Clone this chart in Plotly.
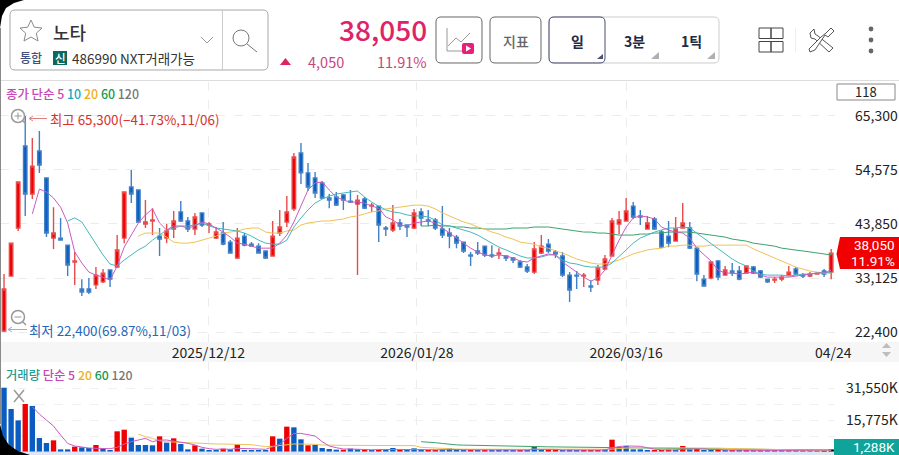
import plotly.graph_objects as go

W, H = 899, 455
FONT = "Noto Sans CJK KR"

open_ = [22600,33500,43050,59350,49800,58350,53000,41050,41050,39650,36300,30950,30950,31750,32350,34700,35300,41050,51200,50600,
         43850,44450,41450,41050,42850,46250,44450,42850,46050,43650,41050,42050,40250,37100,41450,39850,39450,38500,37500,42050,
         44250,46850,57950,54000,53000,52000,49000,49200,49600,48400,47800,48800,47400,47400,43050,42650,44050,43650,43050,46250,
         44650,44650,42850,42050,41250,40250,37700,38500,39450,37700,37900,37500,37100,36300,35300,34300,38100,39850,38300,37500,
         33700,33700,33500,31550,32700,34900,37500,43850,44450,47400,45450,42850,44850,42250,41450,40450,43050,43050,39050,32900,
         33100,36500,33700,34500,34500,34100,35300,34500,32900,32700,32900,33700,34900,33700,33500,33900,34500,34300]
high = [33900,40050,52200,65300,60950,62300,53000,47200,45050,39650,38300,32900,33100,35300,34900,34700,41650,50200,54550,50600,
        48600,47000,43050,43850,46450,48400,45250,46050,46050,44250,43250,44250,40650,43050,42050,40250,40050,38500,44450,46650,
        49400,57950,59950,55950,54200,52400,49800,50200,49800,50600,49600,49200,48000,47400,43450,47600,44850,43650,46850,47000,
        46650,45050,47400,43050,41650,40250,38300,40250,39450,39650,39050,37500,37300,36700,35900,40250,41650,40850,38700,38300,
        34300,34500,34100,32700,35700,37700,45050,46450,49000,48200,46650,45450,45250,42650,44450,45250,48000,44250,39050,33700,
        36300,36700,35500,36100,35500,35500,35500,34700,32900,33300,33700,35500,35300,34100,34300,34100,34900,38900]
low = [22400,33500,42450,45450,48800,54000,41250,38900,40650,33500,31750,29550,29950,30950,32150,31350,35100,40050,48000,44050,
       43050,41650,37500,40050,41050,44250,42250,41650,43250,42050,40850,39650,38100,36900,39450,39450,38100,36900,37500,41450,
       43250,46450,51800,50400,49000,48800,47000,47400,46650,48000,33700,46850,46250,40250,41450,42250,42650,41250,42850,43450,
       43450,42650,41050,39050,39050,38100,35500,37700,37300,37100,36900,36500,36100,35100,34100,33900,37900,38100,37100,33300,
       28350,30950,31350,30350,31750,34700,37500,41850,44450,44850,43650,42850,42650,39050,39250,40450,43050,38900,32500,31550,
       32900,32700,33700,33500,32700,34100,33900,33100,32150,32150,32500,33700,33700,33100,33300,33900,33300,32900]
close = [30950,40050,52200,49800,55350,55550,42050,42050,40650,35700,36500,30350,30350,33700,34100,32900,38700,50200,49800,44250,
         44250,44650,40850,42450,44450,44450,42850,45250,43650,43850,42250,39850,38100,41050,39650,39450,38100,37100,41450,43250,
         46250,57150,54000,51200,50000,49000,48600,47600,48600,48200,48600,47000,47600,43650,42850,44050,43450,43250,46050,45050,
         44450,43050,41650,41450,40050,38500,37500,38100,37700,37500,38100,37100,36700,35300,34500,38900,39450,38500,37900,33700,
         30750,33500,33700,31350,35100,36900,44450,44650,46450,45250,45250,44050,42850,39250,40050,42850,44050,39050,33900,31550,
         36300,33300,34700,34100,32900,35500,34100,33300,32350,32900,33300,34300,33900,33500,33900,34100,33900,38050]

ma5 = [45850,50800,50200,49000,47200,44050,38300,36100,34300,33700,33300,32700,35500,39250,41650,44050,45650,46850,44050,42650,
       43450,43450,43050,43450,44250,43850,43050,42250,41250,40050,39850,39450,39050,39050,39050,40050,41650,44250,47600,50600,
       52000,52200,50600,49200,48600,48200,48200,48000,47400,47000,45250,44650,43650,43450,44050,44250,44450,44050,43050,42050,
       41050,40050,39050,38300,37700,37500,37700,37500,37100,36500,36300,37100,37500,37900,37700,36300,35300,34300,33300,32500,
       33100,34700,37700,40650,43250,45050,45450,45250,44850,43250,42650,42250,42050,41050,39050,37700,36500,34700,34100,34100,
       33900,34100,34300,33700,33300,33300,33300,33300,33500,33700,33900,34100,34100,34700]
ma10 = [44450,45050,44250,42050,39650,37700,35900,35500,36700,37700,38700,39450,40650,41650,42650,43050,43450,43450,43650,44050,
        43450,43050,42850,42650,42450,42050,41450,40650,40050,39850,39850,40650,43250,45050,46650,48000,48800,49400,49800,50000,
        50200,50400,49200,48200,47400,46650,46250,46050,45650,45450,45450,45250,44650,43650,43450,43050,42650,42250,41650,40850,
        40050,39250,38700,38100,37500,37100,37100,37300,37700,37700,36700,36100,35900,35500,35300,35300,35300,36100,37500,38700,
        40050,41050,41650,42250,42650,43050,43050,43250,43050,42050,41050,40050,38900,37900,36900,36100,35500,34500,33900,33700,
        33700,33700,33500,33700,33900,33900,34100,34300,34100]
ma20 = [41450,42050,42050,42050,41250,40250,40050,40050,40250,40650,41050,41450,42050,42250,42450,42850,43050,43050,42250,42050,
        42050,42450,42650,43650,44050,44250,44450,44450,44650,44850,45250,45450,45850,46250,46450,46850,47000,47200,47400,47600,
        47600,47400,46850,46050,45450,44850,44250,43850,43250,42850,42250,41850,41250,40850,40250,40050,39850,39250,39050,38500,
        38100,37500,36900,36500,36100,35900,35900,36300,36700,37300,37900,38300,38700,38900,39050,39450,39450,39650,39650,39450,
        39450,39650,39650,39650,39650,39650,39650,38900,38300,37700,37100,36500,35900,35300,34900,34500,34300,34100,34100]
ma60 = [43450,43450,43650,43450,43450,43250,43250,43050,43050,42850,42850,42850,42850,43050,43050,43050,43250,43250,43250,43050,
        42850,42650,42450,42250,42250,42050,42050,41850,41650,41650,41650,41850,41850,42050,42050,42250,42250,42250,42250,42050,
        41850,41650,41450,41250,40850,40650,40450,40050,39850,39650,39450,39050,38900,38700,38500,38300,38100,37900,37700]

volume = [31700,21200,15600,23660,22700,6900,4440,5750,1300,1300,2630,2300,1970,3450,1640,985,10200,11000,7070,3450,
          3450,3290,7720,4600,6740,3940,1300,3290,1640,985,820,1640,1300,3780,985,820,660,660,7720,6570,
          12500,12160,6240,3290,3450,1970,1480,1150,1150,1640,1300,1150,820,985,985,1970,820,820,1800,1150,
          985,820,1150,1800,1300,1100,1000,1000,1000,1000,1100,1000,900,900,1000,2630,1300,1300,1100,1000,
          1100,1000,900,1000,1000,1300,6080,2460,2950,1300,1300,1000,1000,1000,1150,1150,2950,1300,1640,820,
          1150,1300,800,700,700,800,800,700,700,800,800,800,700,800,800,900,900,1288]
vol_up = "bbbrbbbrbbrbbrbbrrbbbbrbrbbrbbbrbrbbbbrbrbbrbbbbrbbrbrbbrbbbrrbbbbrbrbbbbrbbbrrbbbrrrbrbbbbbrrrbrbrbbrbrbrbrbrbrbrbr"

vma5 = [22300,18700,15700,12800,8360,4260,2950,2300,1970,1800,1800,1640,2300,3940,5080,5900,6720,5080,5900,5900,
        5400,5080,4260,3440,2300,1640,1310,1480,1310,1800,1800,1640,1480,1310,2620,3770,6720,9180,9180,8360,
        7870,5080,2950,2130,1480,1480,1300,1200,1100,1200,1100,1300,1250,1200,1300,1250,1150,1100,1200,1300,
        1200,1100,1050,1000,950,1000,1000,950,1000,1000,1000,1300,1400,1350,1300,1000,950,900,950,950,
        950,1000,2000,2700,3000,2900,2800,2100,1400,1100,1100,1000,1400,1500,1600,1500,1200,1300,1000,900,
        850,850,850,800,800,800,800,800,850,850,850,900,900,1000]
vma20 = [8860,7540,6720,5570,5080,4920,4590,4260,4260,4100,3940,3940,3940,3940,3940,3940,3610,3120,2620,2790,
         3280,3770,3940,3940,3940,3770,3440,3280,3280,3280,3280,3280,3280,3280,3280,3280,3280,3280,3280,3120,
         2300,2100,1800,1600,1500,1450,1400,1350,1300,1300,1300,1300,1300,1300,1300,1300,1400,1400,1400,1300,
         1300,1300,1250,1200,1200,1200,1200,1400,1700,2000,2100,2200,2200,2200,2200,2100,2000,2100,2100,2200,
         2000,1900,1900,1800,1700,1600,1500,1300,1200,1100,1050,1000,1000,1000,950,900,850,850,850]
vma60 = [5080,5000,4600,4200,3700,3500,3400,3300,3200,3100,3050,3000,2950,2900,2800,2700,2650,2600,2550,2500,
         2450,2400,2350,2300,2250,2200,2150,2150,2150,2100,2050,2000,1950,1900,1850,1800,1750,1700,1650,1600,
         1550,1500,1450,1400,1350,1300,1250,1200,1150,1100,1100,1050,1050,1000,1000,1000,950,950,950]

price_ticks = [22400, 33125, 43850, 54575, 65300]
price_labels = ["22,400", "33,125", "43,850", "54,575", "65,300"]
vol_ticks = [31550, 15775]
vol_labels = ["31,550K", "15,775K"]
vol_minor = [23662, 7887]
date_ticks = [28.9, 58.4, 88.0]
date_labels = ["2025/12/12", "2026/01/28", "2026/03/16"]

RED, BLUE = "#f00000", "#0a5cc0"
C5, C10, C20, C60, C120 = "#cc5cc0", "#45b8bc", "#efc258", "#3ba26c", "#777777"

n = len(close)
idx = list(range(n))
fig = go.Figure()


def line(y, start, color, yaxis="y", xaxis="x", width=1):
    fig.add_trace(go.Scatter(x=list(range(start, start + len(y))), y=y, mode="lines", xaxis=xaxis, yaxis=yaxis,
                             line=dict(color=color, width=width), hoverinfo="skip", showlegend=False))


fig.add_trace(go.Candlestick(
    x=idx, open=open_, high=high, low=low, close=close, whiskerwidth=0, showlegend=False,
    increasing=dict(line=dict(color="#e64c4c", width=1.4), fillcolor=RED),
    decreasing=dict(line=dict(color="#4080c6", width=1.4), fillcolor=BLUE)))
line(ma60, 59, C60)
line(ma20, 19, C20)
line(ma10, 9, C10)
line(ma5, 4, C5)

fig.add_trace(go.Bar(x=idx, y=volume, width=0.76, xaxis="x2", yaxis="y2", showlegend=False, hoverinfo="skip",
                     marker=dict(color=[RED if c == "r" else BLUE for c in vol_up], line=dict(width=0))))
line(vma60, 59, C60, "y2", "x2")
line(vma20, 19, C20, "y2", "x2")
line(vma5, 4, C5, "y2", "x2")

PX = 835 / W
XR = [-0.57, 117.54]
GRID = "#ececec"


def vd(top, bot):
    return [1 - bot / H, 1 - top / H]


fig.update_layout(
    width=W, height=H, margin=dict(l=0, r=0, t=0, b=0), paper_bgcolor="white", plot_bgcolor="white",
    font=dict(family=FONT, color="#222222", size=13), showlegend=False, bargap=0.3, hovermode=False,
    xaxis=dict(domain=[0, PX], range=XR, anchor="y", rangeslider=dict(visible=False), tickmode="array",
               tickvals=date_ticks, ticktext=date_labels, showgrid=True, gridcolor=GRID, griddash="dash",
               gridwidth=1, zeroline=False, showline=False, ticks="", tickangle=0, tickfont=dict(size=14, color="#222222"),
               ticklabelstandoff=1),
    yaxis=dict(domain=vd(82, 342), range=[20414, 72050], anchor="x", side="right", tickmode="array",
               tickvals=price_ticks, ticktext=price_labels, showgrid=True, gridcolor=GRID, griddash="dash",
               zeroline=False, showline=False, ticks="", tickfont=dict(size=14, color="#222222"), ticklabelstandoff=19),
    xaxis2=dict(domain=[0, PX], range=XR, anchor="y2", tickmode="array", tickvals=date_ticks, showticklabels=False,
                showgrid=True, gridcolor=GRID, griddash="dash", zeroline=False, showline=False, ticks=""),
    yaxis2=dict(domain=vd(362, 455), range=[-1480, 44370], anchor="x2", side="right", tickmode="array",
                tickvals=vol_ticks, ticktext=vol_labels, showgrid=True, gridcolor="#f1f1f1", griddash="dash",
                minor=dict(tickmode="array", tickvals=vol_minor, showgrid=True, gridcolor="#f1f1f1", griddash="dash", ticks=""),
                zeroline=False, showline=False, ticks="", tickfont=dict(size=14, color="#222222"), ticklabelstandoff=10),
)

shapes, notes = [], []


def X(x):
    return x / W


def Y(y):
    return 1 - y / H


def path(d_pts, close_path=True, line_color=None, fill=None, lw=1, layer="above"):
    d = ""
    for k, p in enumerate(d_pts):
        d += ("M" if k == 0 else "L") + f"{X(p[0]):.5f},{Y(p[1]):.5f} "
    if close_path:
        d += "Z"
    shapes.append(dict(type="path", path=d, xref="paper", yref="paper", layer=layer,
                       line=dict(color=line_color or "rgba(0,0,0,0)", width=lw if line_color else 0),
                       fillcolor=fill or "rgba(0,0,0,0)"))


def rect(x0, y0, x1, y1, line_color=None, fill=None, lw=1, layer="above"):
    shapes.append(dict(type="rect", x0=X(x0), x1=X(x1), y0=Y(y1), y1=Y(y0), xref="paper", yref="paper", layer=layer,
                       line=dict(color=line_color or "rgba(0,0,0,0)", width=lw if line_color else 0),
                       fillcolor=fill or "rgba(0,0,0,0)"))


def rrect(x0, y0, x1, y1, r, line_color=None, fill=None, lw=1):
    x0_, x1_, y0_, y1_ = X(x0), X(x1), Y(y0), Y(y1)
    rx, ry = r / W, r / H
    d = (f"M{x0_ + rx:.5f},{y0_:.5f} L{x1_ - rx:.5f},{y0_:.5f} Q{x1_:.5f},{y0_:.5f} {x1_:.5f},{y0_ - ry:.5f} "
         f"L{x1_:.5f},{y1_ + ry:.5f} Q{x1_:.5f},{y1_:.5f} {x1_ - rx:.5f},{y1_:.5f} "
         f"L{x0_ + rx:.5f},{y1_:.5f} Q{x0_:.5f},{y1_:.5f} {x0_:.5f},{y1_ + ry:.5f} "
         f"L{x0_:.5f},{y0_ - ry:.5f} Q{x0_:.5f},{y0_:.5f} {x0_ + rx:.5f},{y0_:.5f} Z")
    shapes.append(dict(type="path", path=d, xref="paper", yref="paper", layer="above",
                       line=dict(color=line_color or "rgba(0,0,0,0)", width=lw if line_color else 0),
                       fillcolor=fill or "rgba(0,0,0,0)"))


def circle(cx, cy, r, line_color=None, fill=None, lw=1):
    shapes.append(dict(type="circle", x0=X(cx - r), x1=X(cx + r), y0=Y(cy + r), y1=Y(cy - r), xref="paper", yref="paper",
                       layer="above", line=dict(color=line_color or "rgba(0,0,0,0)", width=lw if line_color else 0),
                       fillcolor=fill or "rgba(0,0,0,0)"))


def text(x, y, s, size=12, color="#222222", anchor="left", weight=400, family=FONT):
    notes.append(dict(x=X(x), y=Y(y), xref="paper", yref="paper", text=s, showarrow=False, xanchor=anchor, yanchor="middle",
                      font=dict(size=size, color=color, family=family, weight=weight), borderpad=0, borderwidth=0))


# bands and separators
rect(0, 342, 899, 362, fill="#f6f6f6", layer="below")
rect(0, 80, 899, 81, fill="#dddddd", layer="below")
rect(0, 451, 835, 455, fill="rgba(190,210,240,0.55)")

# search box
rrect(10, 10, 268, 70, 5, line_color="#a8a8a8", lw=1)
path([(222.5, 10), (222.5, 70)], False, "#cccccc")
star = [(31, 20), (34.3, 27.2), (42, 28), (36.3, 33.2), (38, 41), (31, 37), (24, 41), (25.7, 33.2), (20, 28), (27.7, 27.2)]
path(star, True, "#8a8a8a", lw=1)
path([(201, 37), (207, 43), (213, 37)], False, "#999999")
circle(241, 38, 8, "#777777")
path([(247, 44), (257, 52)], False, "#777777")
text(53, 32, "노타", 18, "#333333", weight=500)
text(31, 57.5, "통합", 12, "#3f4f7f", "center", 500)
rect(53, 51, 67, 65, fill="#0a6a60")
text(60, 58, "신", 11.5, "#ffffff", "center", 500)
text(72, 58, "486990 NXT거래가능", 13.5, "#333333")

# quote
text(427, 29.5, "38,050", 28, "#dd2468", "right", 500)
path([(280, 65), (291, 65), (285.5, 58)], True, fill="#dd2468")
text(308, 62, "4,050", 14.5, "#c9447c")
text(427, 62, "11.91%", 14.5, "#c9447c", "right")

# buttons
rrect(436, 17, 482, 63, 5, line_color="#666666")
path([(447, 28), (447, 51), (471, 51)], False, "#999999")
path([(448, 46), (456, 38), (461, 42), (470, 33)], False, "#999999")
rrect(462, 43, 474, 54, 2, fill="#e91e7a")
path([(466, 45.5), (466, 51.5), (471, 48.5)], True, fill="#ffffff")
rrect(490, 17, 541, 63, 5, line_color="#666666")
text(515.5, 41, "지표", 14, "#666666", "center", 500)
rrect(549, 17, 719, 63, 5, line_color="#cccccc")
rrect(549, 17, 605, 63, 5, line_color="#4a4f70")
text(577, 41, "일", 14, "#222a44", "center", 700)
text(634, 41, "3분", 14, "#222a44", "center", 700)
text(691, 41, "1틱", 14, "#222a44", "center", 700)
path([(597, 59), (603, 59), (603, 54)], True, fill="#4a4f70")
path([(651, 59), (659, 59), (659, 52)], True, fill="#b0b0b0")
path([(707, 59), (715, 59), (715, 52)], True, fill="#b0b0b0")

# tool icons
for a, b in [((759, 28), (771, 38.5)), ((771, 28), (783, 38.5)), ((759, 41.5), (771, 52)), ((771, 41.5), (783, 52))]:
    rect(a[0], a[1], b[0], b[1], "#444444")
path([(795.5, 28), (795.5, 52)], False, "#eeeeee")
path([(810, 33), (814, 29), (815, 34), (818, 36), (833, 48), (829, 52), (815, 39), (811, 38)], True, "#555555")
path([(831, 28), (834, 31), (828, 37), (825, 35), (815, 50), (810, 52), (809, 49), (821, 37), (826, 33)], True, "#555555", "#ffffff")
for yy in (29, 40, 51):
    circle(871, yy, 2.4, fill="#666666")

# chart labels
rect(837, 84, 895, 100, "#888888")
text(866, 92, "118", 13, "#222222", "center")
text(6, 94, f'<span style="color:#c946b8">종가 단순 5 </span><span style="color:#1aa7c2">10 </span>'
            f'<span style="color:#eeb020">20 </span><span style="color:#149a50">60 </span><span style="color:{C120}">120</span>', 12.4, "#c946b8", weight=500)
text(6, 375, f'<span style="color:#1f9a95">거래량 </span><span style="color:#c946b8">단순 5 </span><span style="color:#eeb020">20 </span>'
             f'<span style="color:#149a50">60 </span><span style="color:{C120}">120</span>', 12.3, "#c946b8", weight=500)
circle(18, 116, 6.5, "#999999", "rgba(255,255,255,0.6)", 1.5)
path([(14.5, 116), (21.5, 116)], False, "#999999")
path([(18, 112.5), (18, 119.5)], False, "#999999")
path([(23, 121), (26, 124)], False, "#999999", lw=1.5)
circle(18, 317, 6.5, "#999999", "rgba(255,255,255,0.6)", 1.5)
path([(14.5, 317), (21.5, 317)], False, "#999999")
path([(23, 322), (26, 325)], False, "#999999", lw=1.5)
path([(30, 118.5), (47, 118.5)], False, "#e08080")
path([(33, 116), (29, 118.5), (33, 121)], False, "#e08080")
text(49.5, 119, "최고 65,300(−41.73%,11/06)", 13.4, "#d8322c")
path([(9, 329.5), (27, 329.5)], False, "#90b0e0")
path([(12, 327), (8, 329.5), (12, 332)], False, "#90b0e0")
text(28.5, 330, "최저 22,400(69.87%,11/03)", 13.4, "#2468b8")
text(833, 352, "04/24", 14, "#222222", "center")
path([(882, 348), (891, 348), (886.5, 343)], True, fill="#bdbdbd")
path([(882, 352), (891, 352), (886.5, 357)], True, fill="#bdbdbd")
path([(14, 390), (24, 402)], False, "#999999", lw=1.5)
path([(24, 390), (14, 402)], False, "#999999", lw=1.5)

# last price badges
path([(836.5, 254), (840, 237), (899, 237), (899, 269), (840, 269)], True, fill="#f00000")
text(895, 245, "38,050", 13.5, "#ffffff", "right", family="Roboto")
text(895, 261, "11.91%", 13.5, "#ffffff", "right", family="Roboto")
rect(834, 439, 899, 455, fill="#0fa39a")
text(895, 447, "1,288K", 13.5, "#ffffff", "right", family="Roboto")

# screen corners
path([(0, 0), (24, 0), (14, 3), (6, 8), (2, 16), (0, 28)], True, fill="#000000")
path([(0, 424), (3, 436), (9, 445), (18, 451), (30, 455), (0, 455)], True, fill="#000000")
rect(0, 28, 1, 424, fill="#8a8a8a")

fig.update_layout(shapes=shapes, annotations=notes)
fig.write_html("out.html", config=dict(displayModeBar=False, responsive=False),
               post_script="document.body.style.margin='0';document.documentElement.style.overflow='hidden';")
